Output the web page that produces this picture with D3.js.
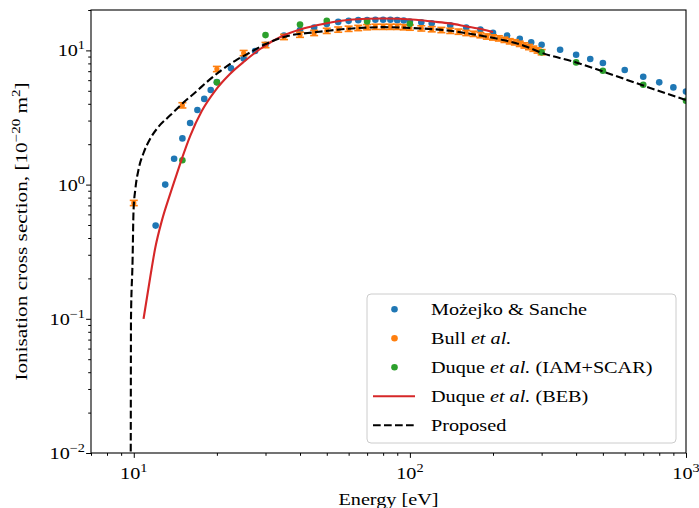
<!DOCTYPE html>
<html><head><meta charset="utf-8">
<script src="https://cdn.jsdelivr.net/npm/d3@7"></script>
<style>body{margin:0;background:#fff} text{font-family:"Liberation Serif",serif;fill:#000}</style>
</head><body><svg id="c" width="699" height="508"></svg>
<script>
// ---- Data ----
const mozE = [12,13,14,15,16,17,18,19,20,22.5,25,27.5,30,35,40,45,50,55,60,65,70,75,80,85,90,95,100,110,120,140,160,180,200,225,250,275,300,350,400,450,500,600,700,800,900,1000];
const mozV = [0.495,1.0,1.56,2.21,2.88,3.6,4.35,5.07,5.8,7.35,8.72,9.9,11.0,12.9,14.2,14.8,15.7,16.3,16.6,16.8,16.8,16.9,16.9,16.9,16.8,16.7,16.4,16.2,15.9,15.4,14.8,14.3,13.5,12.9,12.2,11.5,11.0,10.1,9.29,8.63,8.06,7.15,6.37,5.78,5.30,4.93];

const bullE = [10,15,20,25,30,35,40,45,50,55,60,65,70,75,80,85,90,95,100,110,120,130,140,150,160,170,180,190,200,210,220,230,240,250,260,270,280,290,300];
const bullV = [0.73,3.9,7.27,9.56,10.97,12.6,13.1,13.5,14.0,14.3,14.5,14.7,14.9,15.0,15.0,15.0,15.0,14.9,14.8,14.6,14.4,14.2,14.0,13.8,13.5,13.3,13.0,12.7,12.5,12.3,12.0,11.7,11.5,11.2,10.9,10.6,10.3,10.0,9.7];
const bullErr = 0.045; // relative uncertainty

const iamE = [15,20,30,40,50,70,100,300,400,500,700,1000];
const iamV = [1.52,5.78,13.0,15.6,16.6,16.4,15.8,9.67,8.14,7.06,5.55,4.22];

const bebE = [10.85,11.47,11.96,12.64,13.55,14.52,15.0,16.0,17.65,19.7,22.3,25.3,28.6,34.8,40,46,52.8,60.6,69.8,80,91.8,105,121,139.5,160,184,200];
const bebV = [0.1,0.204,0.337,0.539,0.853,1.31,1.6,2.3,3.55,5.0,6.67,8.37,10.2,12.9,14.3,15.4,16.3,16.9,17.2,17.3,17.2,16.9,16.4,15.9,15.1,14.3,13.7];

const propE = [9.74,9.75,9.77,9.9,9.98,10.13,10.41,10.85,11.47,12.3,13.55,14.94,16.69,18.64,20.84,23.29,26.39,29.88,35,46,60,80,100,140,180,220,260,300,400,500,700,1000];
const propV = [0.004,0.01,0.1,0.27,0.64,0.92,1.3,1.72,2.2,2.7,3.28,3.99,4.86,5.95,7.15,8.37,9.66,11.1,12.6,13.7,14.5,14.9,14.7,14.0,12.9,11.9,10.8,9.6,8.14,6.97,5.47,4.27];

const xMajor = [10,100,1000], xMajorExp = ["1","2","3"];
const yMajor = [0.01,0.1,1,10], yMajorExp = ["\u22122","\u22121","0","1"];
const legendLabels = [
  [["Możejko & Sanche",false]],
  [["Bull ",false],["et al.",true]],
  [["Duque ",false],["et al.",true],[" (IAM+SCAR)",false]],
  [["Duque ",false],["et al.",true],[" (BEB)",false]],
  [["Proposed",false]]
];
const colors = {moz:"#1f77b4", bull:"#ff7f0e", iam:"#2ca02c", beb:"#d62728", prop:"#000"};

// ---- Layout ----
const L=91,R=686,T=10,B=453, SX=1.19;
const svg = d3.select("#c");
const x = d3.scaleLog().domain([7,1000]).range([L,R]);
const y = d3.scaleLog().domain([0.01,20]).range([B,T]);

svg.append("defs").append("clipPath").attr("id","clip")
  .append("rect").attr("x",L).attr("y",T).attr("width",R-L).attr("height",B-T);
const g = svg.append("g").attr("clip-path","url(#clip)");

// Możejko & Sanche
g.append("g").selectAll("circle").data(mozE).join("circle")
  .attr("cx",d=>x(d)).attr("cy",(d,i)=>y(mozV[i])).attr("r",3.3).attr("fill",colors.moz);

// Bull et al. with error bars
const bg = g.append("g").attr("stroke",colors.bull).attr("stroke-width",1.6);
bullE.forEach((e,i)=>{
  const v=bullV[i], lo=y(v*(1-bullErr)), hi=y(v*(1+bullErr)), cx=x(e);
  bg.append("line").attr("x1",cx).attr("x2",cx).attr("y1",lo).attr("y2",hi);
  bg.append("line").attr("x1",cx-4).attr("x2",cx+4).attr("y1",lo).attr("y2",lo);
  bg.append("line").attr("x1",cx-4).attr("x2",cx+4).attr("y1",hi).attr("y2",hi);
  bg.append("circle").attr("cx",cx).attr("cy",y(v)).attr("r",2.6).attr("fill",colors.bull).attr("stroke","none");
});

// IAM+SCAR
g.append("g").selectAll("circle").data(iamE).join("circle")
  .attr("cx",d=>x(d)).attr("cy",(d,i)=>y(iamV[i])).attr("r",3.3).attr("fill",colors.iam);

// BEB
const line = d3.line().x(d=>x(d[0])).y(d=>y(d[1])).curve(d3.curveMonotoneX);
g.append("path").datum(bebE.map((e,i)=>[e,bebV[i]])).attr("d",line)
  .attr("fill","none").attr("stroke",colors.beb).attr("stroke-width",2.1);

// Proposed
g.append("path").datum(propE.map((e,i)=>[e,propV[i]])).attr("d",line)
  .attr("fill","none").attr("stroke",colors.prop).attr("stroke-width",2.1).attr("stroke-dasharray","7.7,3.3");

// ---- Axes ----
function minorTicks(lo,hi){const r=[];for(let d=Math.pow(10,Math.floor(Math.log10(lo)));d<hi;d*=10){for(let k=2;k<10;k++){const v=k*d;if(v>=lo&&v<=hi)r.push(v);}}return r;}
svg.append("g").attr("transform",`translate(0,${B})`)
  .call(d3.axisBottom(x).tickValues(minorTicks(7,1000)).tickSize(2.8).tickFormat(""));
svg.append("g").attr("transform",`translate(0,${B})`)
  .call(d3.axisBottom(x).tickValues(xMajor).tickSize(4.9).tickFormat(""));
svg.append("g").attr("transform",`translate(${L},0)`)
  .call(d3.axisLeft(y).tickValues(minorTicks(0.01,20)).tickSize(2.8).tickFormat(""));
svg.append("g").attr("transform",`translate(${L},0)`)
  .call(d3.axisLeft(y).tickValues(yMajor).tickSize(4.9).tickFormat(""));
svg.selectAll(".domain").remove();
svg.selectAll(".tick line").attr("stroke","#000").attr("stroke-width",1);

function stext(px,py,anchor,rot,sx){
  return svg.append("text").attr("transform",`translate(${px},${py})${rot?" rotate("+rot+")":""} scale(${sx||SX},1)`)
    .attr("text-anchor",anchor).attr("font-size",17);
}
// tick labels with superscripts
xMajor.forEach((v,i)=>{
  const t=stext(x(v),479,"middle");
  t.append("tspan").text("10");
  t.append("tspan").attr("dy",-7).attr("font-size",12).text(xMajorExp[i]);
});
yMajor.forEach((v,i)=>{
  const t=stext(L-6,y(v)+6,"end");
  t.append("tspan").text("10");
  t.append("tspan").attr("dy",-7).attr("font-size",12).text(yMajorExp[i]);
});

// frame
svg.append("rect").attr("x",L).attr("y",T).attr("width",R-L).attr("height",B-T)
  .attr("fill","none").attr("stroke","#000").attr("stroke-width",1.1);

// axis labels
stext((L+R)/2,505,"middle").text("Energy [eV]");
const yl = stext(27,(T+B)/2,"middle",-90,1.25);
yl.append("tspan").text("Ionisation cross section, [10");
yl.append("tspan").attr("dy",-7).attr("font-size",12).text("\u221220");
yl.append("tspan").attr("dy",7).text(" m");
yl.append("tspan").attr("dy",-7).attr("font-size",12).text("2");
yl.append("tspan").attr("dy",7).text("]");

// ---- Legend ----
const lg = svg.append("g");
lg.append("rect").attr("x",367).attr("y",294).attr("width",309).attr("height",149).attr("rx",4)
  .attr("fill","#fff").attr("fill-opacity",0.8).attr("stroke","#ccc").attr("stroke-width",1);
const rowY = d=>309.3 + d*29;
const keys = ["moz","bull","iam","beb","prop"];
keys.forEach((k,i)=>{
  const cy=rowY(i);
  if(i<3){ lg.append("circle").attr("cx",394.5).attr("cy",cy).attr("r",3.3).attr("fill",colors[k]); }
  else { lg.append("line").attr("x1",373).attr("x2",415).attr("y1",cy).attr("y2",cy).attr("stroke",colors[k]).attr("stroke-width",2.1)
      .attr("stroke-dasharray",k==="prop"?"7.7,3.3":null); }
  const t=stext(431,cy+6,"start");
  legendLabels[i].forEach(([s,it])=>t.append("tspan").attr("font-style",it?"italic":"normal").text(s));
});
</script></body></html>
